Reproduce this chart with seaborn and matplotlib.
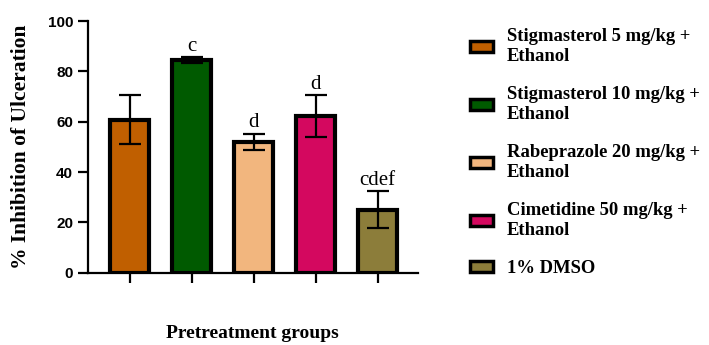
import matplotlib
matplotlib.use("Agg")
import matplotlib.pyplot as plt
from matplotlib.patches import Patch
import seaborn as sns
import pandas as pd

# Group labels, means, SEM and significance letters
groups = [
    "Stigmasterol 5 mg/kg +\nEthanol",
    "Stigmasterol 10 mg/kg +\nEthanol",
    "Rabeprazole 20 mg/kg +\nEthanol",
    "Cimetidine 50 mg/kg +\nEthanol",
    "1% DMSO",
]
inhibition = [60.8, 84.5, 52.0, 62.3, 25.0]
sem = [9.7, 1.2, 3.3, 8.3, 7.4]
letters = ["", "c", "d", "d", "cdef"]
colors = ["#C05F00", "#005A00", "#F2B67E", "#D4085F", "#8C7D3A"]
yticks = [0, 20, 40, 60, 80, 100]

df = pd.DataFrame({"group": groups, "inhibition": inhibition, "sem": sem})

sns.set_style("ticks")
plt.rcParams.update({"text.color": "black", "axes.labelcolor": "black",
                     "xtick.color": "black", "ytick.color": "black"})
serif = ["Liberation Serif", "DejaVu Serif"]
sans = ["Liberation Sans", "DejaVu Sans"]

fig = plt.figure(figsize=(7.09, 3.45), dpi=100)
ax = fig.add_axes([0.1237, 0.2096, 0.4659, 0.7294])

sns.barplot(data=df, x="group", y="inhibition", hue="group", palette=colors,
            order=groups, hue_order=groups, width=0.63, errorbar=None,
            saturation=1, edgecolor="black", linewidth=3, legend=False,
            ax=ax, zorder=2)

xpos = list(range(len(groups)))
ax.errorbar(xpos, df["inhibition"], yerr=df["sem"], fmt="none", ecolor="black",
            elinewidth=1.6, capsize=8, capthick=1.6, zorder=3)

for x, m, e, lab in zip(xpos, inhibition, sem, letters):
    if lab:
        ax.annotate(lab, (x, m + e), xytext=(0, 4.5), textcoords="offset points",
                    ha="center", va="baseline", fontsize=15, family=serif)

ax.set_xlim(-0.675, 4.65)
ax.set_ylim(0, 100)
ax.set_yticks(yticks)
ax.set_yticklabels([str(v) for v in yticks], fontsize=11, fontweight="bold", family=sans)
ax.set_xticks(xpos)
ax.set_xticklabels([""] * len(xpos))
ax.tick_params(axis="both", length=7, width=1.6, color="black")
for side in ("left", "bottom"):
    ax.spines[side].set_linewidth(1.6)
    ax.spines[side].set_color("black")
sns.despine(ax=ax)

ax.set_ylabel("% Inhibition of Ulceration", fontsize=15.5, fontweight="bold",
              family=serif, labelpad=12)
ax.set_xlabel("Pretreatment groups", fontsize=14, fontweight="bold",
              family=serif, labelpad=27)

handles = [Patch(facecolor=c, edgecolor="black", linewidth=2.5, label=g)
           for c, g in zip(colors, groups)]
leg = fig.legend(handles=handles, loc="upper left", bbox_to_anchor=(0.652, 0.94),
                 frameon=False, prop={"family": serif, "weight": "bold", "size": 13.4},
                 handlelength=1.25, handleheight=0.55, handletextpad=0.75,
                 labelspacing=1.11, borderaxespad=0)
for t in leg.get_texts():
    t.set_linespacing(1.25)

fig.savefig("out.png", dpi=100)
